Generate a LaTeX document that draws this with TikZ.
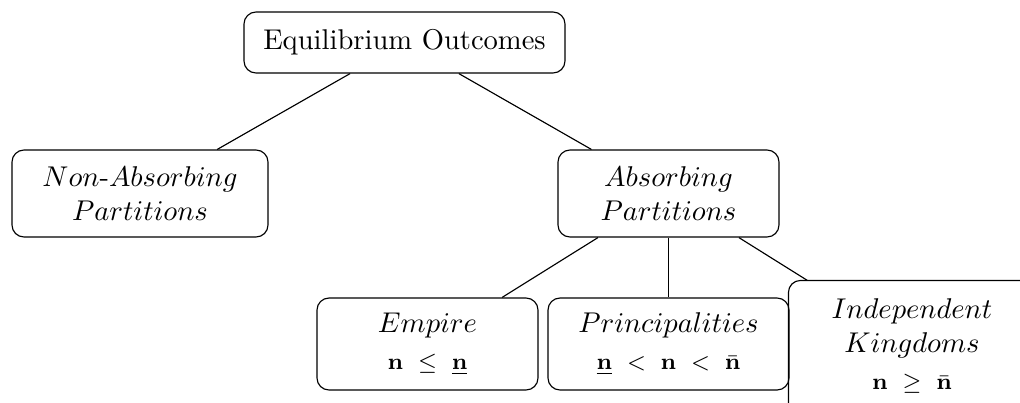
\documentclass[tikz,border=0pt]{standalone}
\usetikzlibrary{calc}
\begin{document}
\begin{tikzpicture}[x=0.35pt,y=-0.35pt,
  box/.style={draw, rounded corners=4.2pt, align=center, inner sep=0pt, line width=0.4pt},
  plain/.style={align=center, inner sep=0pt}]
\useasboundingbox (0,0) rectangle (1020,402);
\node[box, minimum width=112.35pt, minimum height=21.35pt] (top) at (404.5,42.5) {Equilibrium Outcomes};
\node[box, minimum width=89.6pt, minimum height=30.45pt] (nonabs) at (140,193.5) {$Non$-$Absorbing$\\$Partitions$};
\node[box, minimum width=77.35pt, minimum height=30.45pt] (abs) at (668.5,193.5) {$Absorbing$\\$Partitions$};
\node[box, minimum width=77.35pt, minimum height=32.2pt] (emp) at (427.5,344) {$Empire$\\[1pt]{\footnotesize$\mathbf{n}\ \leq\ \underline{\mathbf{n}}$}};
\node[box, minimum width=84.35pt, minimum height=32.2pt] (prin) at (668.5,344) {$Principalities$\\[1pt]{\footnotesize$\underline{\mathbf{n}}\ <\ \mathbf{n}\ <\ \bar{\mathbf{n}}$}};
\node[plain, minimum width=86.1pt, minimum height=45.5pt] (ind) at (912,346) {$Independent$\\$Kingdoms$\\[1pt]{\footnotesize$\mathbf{n}\ \geq\ \bar{\mathbf{n}}$}};
\draw[rounded corners=4.2pt, line width=0.4pt] (ind.north west) rectangle ($(ind.south east)+(0,30)$);
\draw (top) -- (nonabs);
\draw (top) -- (abs);
\draw (abs) -- (emp);
\draw (abs) -- (prin);
\draw (abs) -- (ind);
\end{tikzpicture}
\end{document}
